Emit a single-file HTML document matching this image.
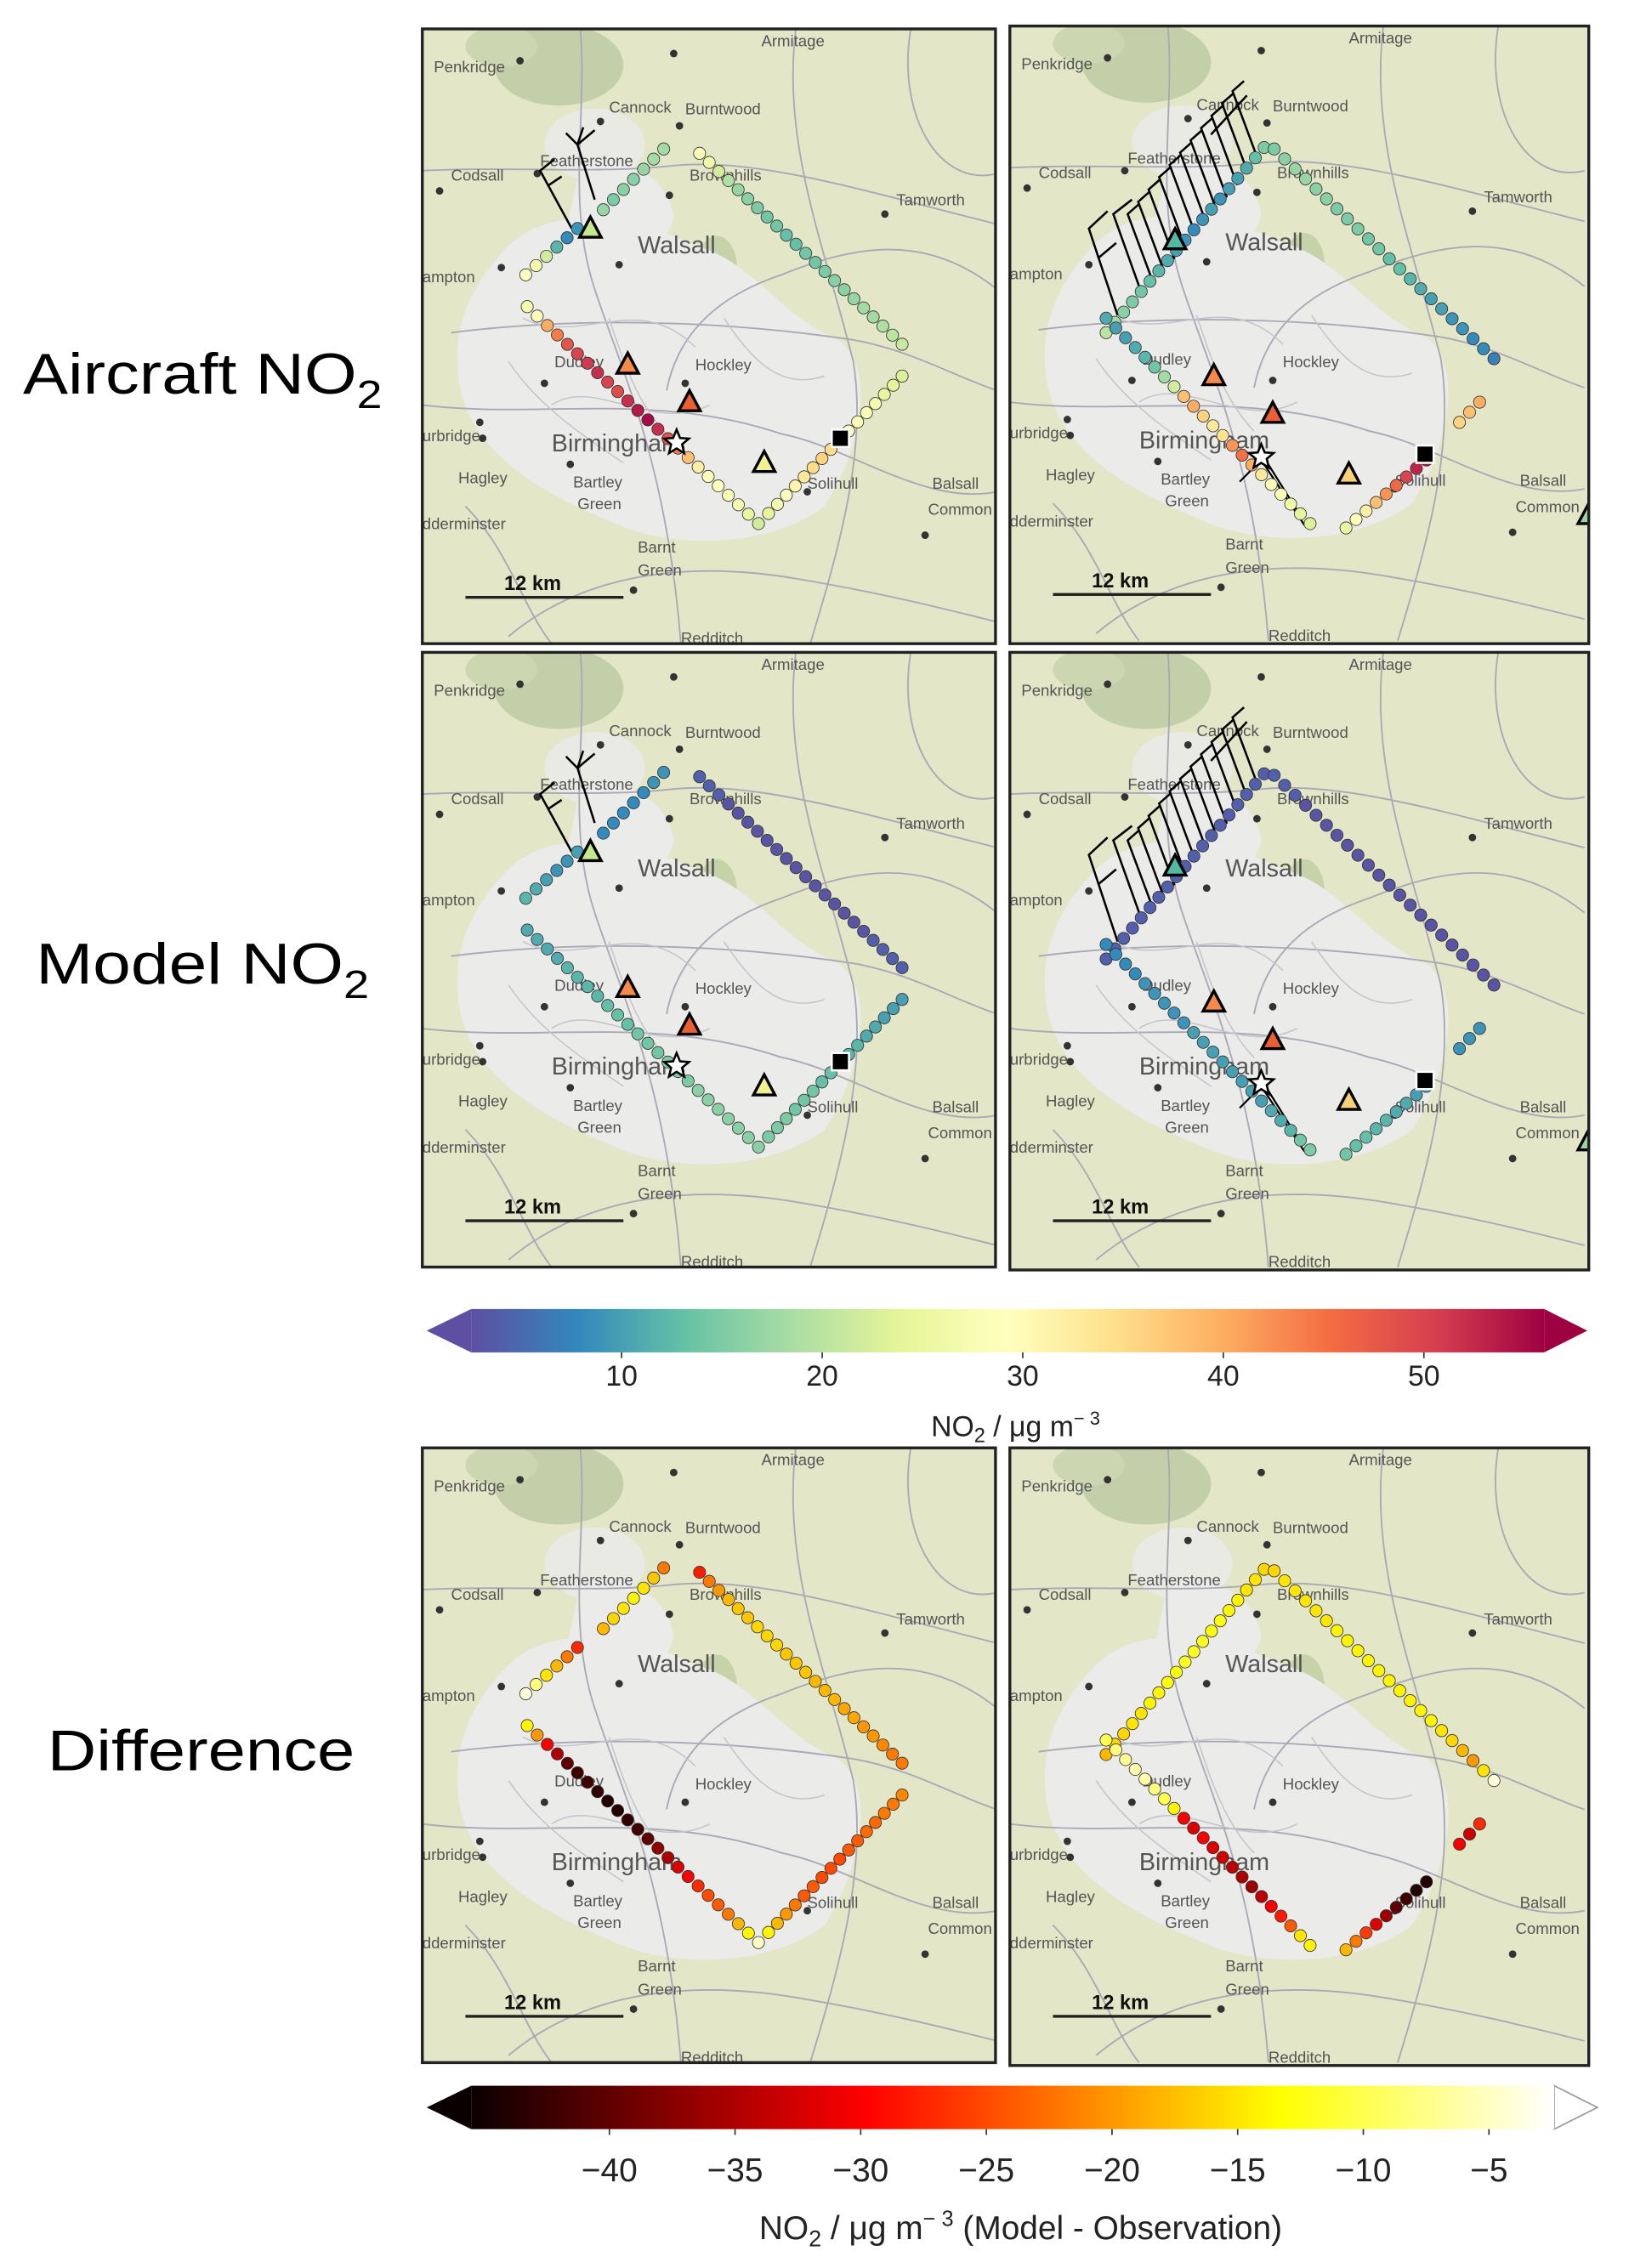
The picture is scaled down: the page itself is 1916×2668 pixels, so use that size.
<!DOCTYPE html>
<html><head><meta charset="utf-8"><style>
html,body{margin:0;padding:0;background:#fff;}
svg{display:block;}
</style></head><body>
<svg id="fig" width="1916" height="2668" viewBox="0 0 1134 1568" preserveAspectRatio="none" xmlns="http://www.w3.org/2000/svg" font-family="Liberation Sans, DejaVu Sans, sans-serif">
<defs>
<linearGradient id="gSpec" x1="0" x2="1" y1="0" y2="0">
<stop offset="0" stop-color="#5e4fa2"/><stop offset="0.1" stop-color="#3288bd"/><stop offset="0.2" stop-color="#66c2a5"/><stop offset="0.3" stop-color="#abdda4"/><stop offset="0.4" stop-color="#e6f598"/><stop offset="0.5" stop-color="#ffffbf"/><stop offset="0.6" stop-color="#fee08b"/><stop offset="0.7" stop-color="#fdae61"/><stop offset="0.8" stop-color="#f46d43"/><stop offset="0.9" stop-color="#d53e4f"/><stop offset="1" stop-color="#9e0142"/>
</linearGradient>
<linearGradient id="gHot" x1="0" x2="1" y1="0" y2="0">
<stop offset="0" stop-color="#0b0000"/><stop offset="0.365" stop-color="#ff0000"/><stop offset="0.746" stop-color="#ffff00"/><stop offset="1" stop-color="#ffffff"/>
</linearGradient>
</defs>
<g font-size="40" fill="#000">
<text x="16" y="272" textLength="250" lengthAdjust="spacingAndGlyphs">Aircraft NO<tspan font-size="27" dy="10">2</tspan></text>
<text x="25" y="680" textLength="232" lengthAdjust="spacingAndGlyphs">Model NO<tspan font-size="27" dy="10">2</tspan></text>
<text x="33" y="1224" textLength="214" lengthAdjust="spacingAndGlyphs">Difference</text>
</g>
<g id="panels"></g>
<g id="cbars"></g>
</svg>
<script>
// ---------- data ----------
const spectralTicks = [10, 20, 30, 40, 50];
const hotTicks = [-40, -35, -30, -25, -20, -15, -10, -5];
// aircraft, left flight
const airL1 = [18,18,17,16,16,15,17];
const airL2 = [9,8,12,22,27,29];
const airLNE = [28,26,22,19,17,16,15,14,14,13,13,14,14,15,16,16,17,18,18,19,20,21];
const airLSW = [27,30,40,44,48,50,51,52,50,49,52,54,55,52,48,44,38,32,30,29,28,27,25,22];
const airLSE = [24,27,29,31,33,35,36,35,32,30,29,28,27,25,24,23];
// aircraft, right flight
const airR1 = [15,13,11,10,10,9,10,9,8,9,10,11,12,13,14,15,16,18,20];
const airRNE = [15,16,17,17,16,16,15,15,15,14,14,13,13,12,11,10,10,9,9,8,8,7];
const airRSW = [11,10,10,11,12,14,18,22,38,40,36,33,34,42,45,40,33,30,28,26,24,23];
const airRSE = [25,28,32,38,42,46,50,53,55];
const airRISO = [36,38,40];
// model, left
const modL1 = [9,9,8,8,8,8,8];
const modL2 = [10,9,9,10,11,12];
const modLNE = [4,4,4,3,3,3,3,3,3,3,3,3,3,3,3,3,3,3,4,4,4,4];
const modLSW = [11,11,11,11,12,12,12,12,13,13,13,14,14,14,15,15,15,16,16,16,16,16,16,16];
const modLSE = [15,15,15,14,14,14,13,13,13,12,12,11,11,10,10,10];
// model, right
const modR1 = [4,4,4,4,4,4,4,4,4,4,4,4,4,4,4,4,4,4,4];
const modRNE = [4,4,4,3,3,3,3,3,3,3,3,3,3,3,3,3,3,3,3,3,3,3];
const modRSW = [8,8,8,8,9,9,9,9,9,10,10,10,10,10,10,10,10,11,11,12,14,15];
const modRSE = [14,13,13,12,12,11,11,10,10];
const modRISO = [9,9,9];
// difference, left
const difL1 = [-22,-17,-15,-14,-15,-16,-18];
const difL2 = [-27,-22,-18,-15,-8,-4];
const difLNE = [-28,-22,-20,-18,-17,-17,-16,-16,-16,-17,-17,-17,-18,-18,-18,-19,-19,-20,-20,-21,-22,-22];
const difLSW = [-14,-20,-30,-35,-40,-42,-42,-43,-44,-44,-43,-42,-40,-37,-35,-32,-30,-27,-25,-24,-22,-18,-14,-5];
const difLSE = [-14,-18,-20,-22,-24,-24,-25,-25,-25,-24,-24,-23,-23,-22,-22,-21];
// difference, right
const difR1 = [-16,-15,-15,-14,-14,-13,-13,-12,-12,-12,-13,-13,-14,-14,-15,-15,-16,-16,-18];
const difRNE = [-16,-15,-15,-15,-15,-15,-14,-14,-14,-14,-14,-14,-14,-14,-14,-14,-15,-16,-18,-20,-15,-4];
const difRSW = [-10,-8,-7,-6,-6,-8,-10,-14,-30,-32,-30,-32,-33,-34,-35,-36,-34,-30,-28,-24,-15,-14];
const difRSE = [-18,-22,-26,-32,-36,-40,-42,-44,-44];
const difRISO = [-30,-33,-27];

// ---------- helpers ----------
const NS = "http://www.w3.org/2000/svg";
function mk(tag, attrs, parent){const e=document.createElementNS(NS,tag);for(const k in attrs)e.setAttribute(k,attrs[k]);if(parent)parent.appendChild(e);return e;}
function hex(h){return [parseInt(h.slice(1,3),16),parseInt(h.slice(3,5),16),parseInt(h.slice(5,7),16)];}
function interp(stops,t){t=Math.max(0,Math.min(1,t));for(let i=1;i<stops.length;i++){if(t<=stops[i][0]){const a=stops[i-1],b=stops[i];const f=(t-a[0])/(b[0]-a[0]||1);const ca=hex(a[1]),cb=hex(b[1]);return "rgb("+ca.map((v,j)=>Math.round(v+(cb[j]-v)*f)).join(",")+")";}}return stops[stops.length-1][1];}
const specStops=[[0,"#5e4fa2"],[0.1,"#3288bd"],[0.2,"#66c2a5"],[0.3,"#abdda4"],[0.4,"#e6f598"],[0.5,"#ffffbf"],[0.6,"#fee08b"],[0.7,"#fdae61"],[0.8,"#f46d43"],[0.9,"#d53e4f"],[1,"#9e0142"]];
const hotStops=[[0,"#0b0000"],[0.365,"#ff0000"],[0.746,"#ffff00"],[1,"#ffffff"]];
const sMin=2.5,sMax=56, hMin=-45.5,hMax=-2.4;
const specColor=v=>interp(specStops,(v-sMin)/(sMax-sMin));
const hotColor=v=>interp(hotStops,(v-hMin)/(hMax-hMin));

const towns=[["Armitage",236,12,175,17],["Penkridge",8,30,68,22],["Cannock",130,58,124,64],["Burntwood",183,59,179,67],["Featherstone",82,95,80,100],["Codsall",20,105,12,112],["Brownhills",186,105,172,115],["Tamworth",330,122,322,128],["Walsall",150,155,137,163],["ampton",0,175,55,165],["Dudley",92,234,85,245],["Hockley",190,236,183,245],["urbridge",0,285,40,272],["Birmingham",90,292,null,null],["Hagley",25,314,42,283],["Bartley",105,317,103,301],["Green",108,332,null,null],["Solihull",268,318,268,320],["Balsall",355,318,null,null],["Common",352,336,350,350],["dderminster",0,346,null,null],["Barnt",150,362,null,null],["Green",150,378,147,388],["Redditch",180,425,null,null]];

function drawMap(g,w,h,id){
  const cp=mk("clipPath",{id:"clip"+id},g); mk("rect",{x:0,y:0,width:w,height:h},cp);
  const m=mk("g",{"clip-path":"url(#clip"+id+")"},g);
  
  
  mk("rect",{x:0,y:0,width:w,height:h,fill:"#e3e6c7"},m);
  mk("ellipse",{cx:95,cy:25,rx:45,ry:28,fill:"#c3cfa8"},m);
  mk("ellipse",{cx:55,cy:12,rx:25,ry:14,fill:"#ccd6b1"},m);
  mk("ellipse",{cx:205,cy:165,rx:14,ry:22,fill:"#c6d3a9"},m);
  mk("ellipse",{cx:120,cy:80,rx:35,ry:25,fill:"#e9eae4"},m);
  mk("path",{d:"M60 150 C90 120 150 130 190 150 C230 160 250 200 290 215 C320 240 300 300 280 330 C240 360 170 360 130 340 C80 320 30 290 25 240 C20 200 40 170 60 150 Z",fill:"#ebebea"},m);
  mk("path",{d:"M110 95 C140 85 170 100 175 130 C170 160 120 165 100 140 Z",fill:"#ebebea"},m);
  const rd="#a9a9b6";
  ["M0 98 C60 95 120 100 170 95 C230 88 300 110 400 135","M110 0 C115 60 100 120 120 180 C140 240 170 300 180 425","M20 210 C100 200 200 200 300 215 C340 222 370 240 400 250","M0 260 C80 270 160 250 250 280 C300 290 350 330 400 320","M260 0 C250 80 280 150 300 230 C310 290 290 360 270 425","M60 420 C120 370 200 370 260 380 C320 390 360 400 400 410","M170 250 C180 200 220 180 250 170 C300 150 350 140 400 180","M30 330 C60 360 70 400 90 425","M340 0 C330 60 360 110 400 100"].forEach(d=>mk("path",{d:d,fill:"none",stroke:rd,"stroke-width":1.1},m));
  ["M70 200 C110 220 150 180 190 220","M90 260 C120 240 160 280 200 260","M60 230 C80 260 110 280 140 300","M210 200 C230 230 250 250 280 240","M130 200 C140 230 150 260 170 280"].forEach(d=>mk("path",{d:d,fill:"none",stroke:"#c4c4cc","stroke-width":0.9},m));
  towns.forEach(t=>{
    const big=t[0]==="Birmingham"||t[0]==="Walsall";
    const tx=mk("text",{x:t[1],y:t[2],"font-size":big?17:11,fill:"#555"},m); tx.textContent=t[0];
    
    
    if(t[3]!==null) mk("circle",{cx:t[3],cy:t[4],r:2.6,fill:"#333"},m);
  });
  const sb=mk("text",{x:57,y:388,"font-size":14,"font-weight":"bold",fill:"#111"},m); sb.textContent="12 km";
  
  
  mk("line",{x1:30,y1:393,x2:140,y2:393,stroke:"#222","stroke-width":2},m);
  return m;
}
function track(g,p0,p1,vals,cfn){
  const n=vals.length;
  vals.forEach((v,i)=>{
    const t=n>1?i/(n-1):0;
    const c=mk("circle",{cx:p0[0]+(p1[0]-p0[0])*t,cy:p0[1]+(p1[1]-p0[1])*t,r:4.2,fill:cfn(v),stroke:"#333","stroke-width":0.5},g);
    
    
  });
}
function tri(g,x,y,col){const t=mk("path",{d:`M${x} ${y-8} L${x+7.5} ${y+6} L${x-7.5} ${y+6} Z`,fill:col,stroke:"#000","stroke-width":2},g);
  
  }
function star(g,x,y){let d="";for(let i=0;i<10;i++){const r=i%2?4:9,a=-Math.PI/2+i*Math.PI/5;d+=(i?"L":"M")+(x+r*Math.cos(a)).toFixed(1)+" "+(y+r*Math.sin(a)).toFixed(1);}
  const s=mk("path",{d:d+"Z",fill:"#fff",stroke:"#000","stroke-width":1.5},g);
  
  }
function sq(g,x,y){const s=mk("rect",{x:x-6,y:y-6,width:12,height:12,fill:"#000",stroke:"#fff","stroke-width":1.5},g);
  
  }
function barbsLeft(g){
  const b=mk("g",{stroke:"#000","stroke-width":1.5,fill:"none"},g);
  
  
  mk("path",{d:"M104 138 L82 98 L92 90 M88 108 L97 102"},b);
  mk("path",{d:"M120 118 L108 80 L100 72 M108 80 L120 70 M108 80 L112 68"},b);
}
function barbsRight(g){
  const b=mk("g",{stroke:"#000","stroke-width":1.5,fill:"none"},g);
  
  
  for(let i=0;i<11;i++){const x=100+i*7.3,y=178-i*8.5;mk("path",{d:`M${x} ${y} L${x-18} ${y-48} L${x-10} ${y-55}`},b);}
  mk("path",{d:"M75 200 L55 140 L68 128 M62 160 L74 150"},b);
  mk("path",{d:"M90 180 L72 130 L85 120"},b);
  mk("path",{d:"M165 48 L140 75"},b);
}

const panelsG=document.getElementById("panels");
const rows=[
 {name:"aircraft",cf:specColor,L:[airL1,airL2,airLNE,airLSW,airLSE],R:[airR1,airRNE,airRSW,airRSE,airRISO],ly:20,ry:18,markers:true,barbs:true},
 {name:"model",cf:specColor,L:[modL1,modL2,modLNE,modLSW,modLSE],R:[modR1,modRNE,modRSW,modRSE,modRISO],ly:451,ry:451,markers:true,barbs:true},
 {name:"difference",cf:hotColor,L:[difL1,difL2,difLNE,difLSW,difLSE],R:[difR1,difRNE,difRSW,difRSE,difRISO],ly:1001,ry:1001,markers:false,barbs:false}
];
const geomL=[[[168,83],[126,125]],[[108,138],[72,170]],[[193,86],[334,218]],[[73,192],[234,342]],[[241,335],[334,240]]];
const geomR=[[[177,84],[67,212]],[[184,85],[337,230]],[[67,202],[209,344]],[[234,347],[290,300]],[[313,274],[327,260]]];
const aircraftTriL=[[143,232,"#f58a4b"],[186,258,"#ec5f35"],[238,300,"#f3f08f"],[117,138,"#c5e78e"]];
const aircraftTriR=[[115,148,"#52b9a2"],[142,242,"#f58a4b"],[183,268,"#ec5f35"],[236,310,"#f8d07a"]];
rows.forEach((r,ri)=>{
  [["L",294,r.ly,399,425,geomL],["R",703,r.ry,403,427,geomR]].forEach(p=>{
    const g=mk("g",{transform:`translate(${p[1]},${p[2]})`},panelsG);
    
    
    const m=drawMap(g,p[3],p[4],r.name+p[0]);
    if(r.barbs){ if(p[0]==="L") barbsLeft(m); else barbsRight(m);
      if(p[0]==="R"){mk("path",{d:"M175 300 L205 345 M178 300 L200 335 M160 315 L170 305",stroke:"#000","stroke-width":1.3,fill:"none"},m);} }
    const vals=r[p[0]];
    vals.forEach((v,i)=>track(m,p[5][i][0],p[5][i][1],v,r.cf));
    if(r.markers){
      (p[0]==="L"?aircraftTriL:aircraftTriR).forEach(t=>tri(m,t[0],t[1],t[2]));
      if(p[0]==="L"){star(m,177,286);sq(m,291,283);}else{star(m,175,298);sq(m,289,296);tri(m,403,338,"#9bd49f");}
    }
    const fr=mk("rect",{x:0,y:0,width:p[3],height:p[4],fill:"none",stroke:"#222","stroke-width":2},g);
    
    
  });
});

// ---------- colorbars ----------
const cb=document.getElementById("cbars");
function colorbar(y,x0,x1,tl,tr,grad,leftCol,rightCol,ticks,vmin,vmax,fs,tickY,label,labelY,nm){
  const g=mk("g",{},cb);
  
  
  mk("path",{d:`M${tl} ${y+15} L${x0} ${y} L${x0} ${y+30} Z`,fill:leftCol},g);
  mk("path",{d:`M${tr} ${y+15} L${x1} ${y} L${x1} ${y+30} Z`,fill:rightCol,stroke:rightCol==="#ffffff"?"#999":"none","stroke-width":1},g);
  mk("rect",{x:x0,y:y,width:x1-x0,height:30,fill:`url(#${grad})`},g);
  ticks.forEach(v=>{const x=x0+(v-vmin)/(vmax-vmin)*(x1-x0);
    mk("line",{x1:x,y1:y+30,x2:x,y2:y+34,stroke:"#333"},g);
    const t=mk("text",{x:x,y:tickY,"text-anchor":"middle","font-size":fs,fill:"#222"},g);t.textContent=(v<0?"\u2212"+Math.abs(v):v);
    
    });
  const lt=mk("text",{x:(tl+tr)/2+6,y:labelY,"text-anchor":"middle","font-size":fs,fill:"#222"},g);
  lt.innerHTML=label;
  
  
}
colorbar(905,328,1075,297,1105,"gSpec","#5e4fa2","#9e0142",spectralTicks,sMin,sMax,20,958,'NO<tspan font-size="14" dy="4">2</tspan><tspan dy="-4"> / μg m</tspan><tspan font-size="13" dy="-8">− 3</tspan>',993,"colorbar-no2");
colorbar(1442,328,1082,297,1112,"gHot","#0b0000","#ffffff",hotTicks,hMin,hMax,23,1508,'NO<tspan font-size="16" dy="5">2</tspan><tspan dy="-5"> / μg m</tspan><tspan font-size="15" dy="-9">− 3</tspan><tspan dy="9"> (Model - Observation)</tspan>',1548,"colorbar-difference");
</script>
</body></html>
